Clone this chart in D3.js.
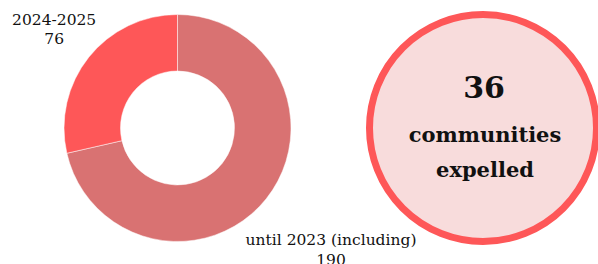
<!DOCTYPE html>
<html lang="en">
<head>
<meta charset="UTF-8">
<title>Communities expelled</title>
<script src="https://d3js.org/d3.v7.min.js"></script>
<style>
    body { margin: 0; background: #fff; overflow: hidden; }
    text { font-family: "DejaVu Serif", serif; fill: #111; }
</style>
</head>
<body>
<div id="chart"></div>
<script>
    const categories = ["until 2023 (including)", "2024-2025"];
    const values = [190, 76];
    const colors = ["#d97272", "#fe5758"];
    const labelDist = [1.73, 1.39];

    const highlightValue = 36;
    const highlightLines = ["communities", "expelled"];

    const width = 598, height = 264;
    const cx = 177.5, cy = 128, outerR = 113.5, innerR = 57;

    const svg = d3.select("#chart").append("svg")
        .attr("width", width)
        .attr("height", height);

    const pie = d3.pie().sort(null).value(d => d.value);
    const arc = d3.arc().innerRadius(innerR).outerRadius(outerR);
    const data = categories.map((c, i) => ({ name: c, value: values[i], i }));

    const g = svg.append("g").attr("transform", `translate(${cx},${cy})`);

    g.selectAll("path")
        .data(pie(data))
        .enter()
        .append("path")
        .attr("d", arc)
        .attr("fill", d => colors[d.data.i])
        .attr("stroke", "#fff")
        .attr("stroke-width", 0.5);

    // labels outside the slices
    g.selectAll("g.lbl")
        .data(pie(data))
        .enter()
        .append("g")
        .attr("class", "lbl")
        .attr("transform", d => {
            const a = (d.startAngle + d.endAngle) / 2;
            const r = outerR * labelDist[d.data.i];
            return `translate(${Math.sin(a) * r},${-Math.cos(a) * r})`;
        })
        .each(function (d) {
            const t = d3.select(this).append("text")
                .attr("text-anchor", "middle")
                .style("font-size", "15.5px");
            t.append("tspan").attr("x", 0).attr("y", -5).text(d.data.name);
            t.append("tspan").attr("x", 0).attr("y", 14.5).text(d.data.value);
        });

    // big circle
    const bx = 483, by = 128, br = 113.5;
    svg.append("circle")
        .attr("cx", bx)
        .attr("cy", by)
        .attr("r", br)
        .attr("fill", "#f8dcdc")
        .attr("stroke", "#fe5758")
        .attr("stroke-width", 7);

    svg.append("text")
        .attr("x", bx + 1)
        .attr("y", 98)
        .attr("text-anchor", "middle")
        .style("font-size", "30px")
        .style("font-weight", "bold")
        .text(highlightValue);

    svg.append("text")
        .attr("x", bx + 2)
        .attr("y", 142)
        .attr("text-anchor", "middle")
        .style("font-size", "21px")
        .style("font-weight", "bold")
        .selectAll("tspan")
        .data(highlightLines)
        .enter()
        .append("tspan")
        .attr("x", bx + 2)
        .attr("dy", (d, i) => i === 0 ? 0 : 35)
        .text(d => d);
</script>
</body>
</html>
